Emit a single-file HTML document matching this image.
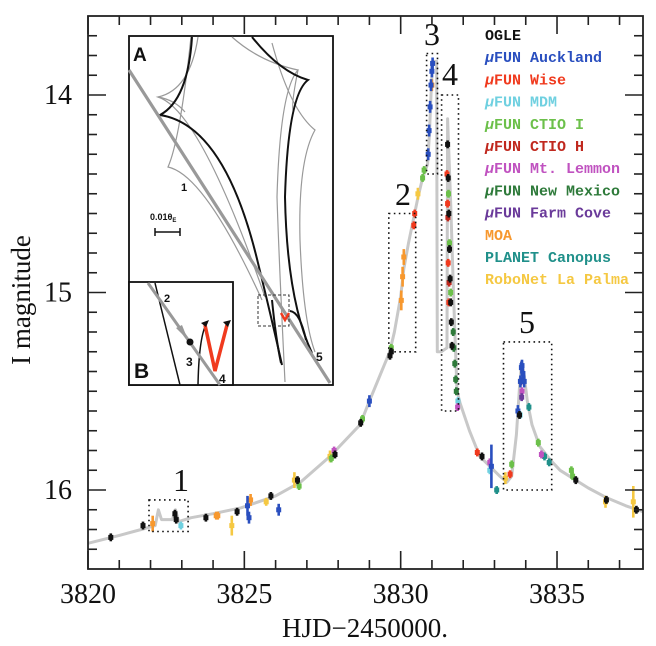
<!DOCTYPE html>
<html><head><meta charset="utf-8">
<style>
html,body{margin:0;padding:0;background:#fff;}
svg{display:block;}
.tk{stroke:#222;stroke-width:1.6;}
.lbl{font-family:"Liberation Serif",serif;fill:#111;}
.leg{font-family:"Liberation Mono",monospace;font-weight:bold;font-size:15px;}
</style></head>
<body>
<svg id="chart" width="656" height="646" viewBox="0 0 656 646" xmlns="http://www.w3.org/2000/svg">
  <rect x="0" y="0" width="656" height="646" fill="#fff"/>
  <g id="model"></g>
  <g id="points"></g>
  <g id="boxes"></g>
  <g id="inset">
    <rect x="129" y="36" width="204" height="349" fill="#fff" stroke="#111" stroke-width="1.8"/>
    <g fill="none" stroke="#999" stroke-width="1.2">
      <path d="M198,37 Q190,90 158,97 Q200,110 265,297"/>
      <path d="M191,37 Q180,140 168,167 Q205,175 262,300"/>
      <path d="M158,97 Q175,100 185,112"/>
      <path d="M232,37 Q260,62 298,70 Q280,90 277,197 Q279,260 285,382"/>
      <path d="M272,43 Q290,110 315,130 Q298,160 300,240 Q303,320 315,352"/>
      <path d="M298,70 Q290,110 294,112"/>
    </g>
    <g fill="none" stroke="#111" stroke-width="2">
      <path d="M192,37 Q188,100 160,115 Q225,125 258,263 Q272,320 282,365"/>
      <path d="M252,37 Q280,72 308,80 Q288,95 285,197 Q287,300 312,353"/>
      <path d="M272,300 Q276,340 281,363"/>
      <path d="M290,311 Q300,312 306,340"/>
    </g>
    <line x1="129" y1="70" x2="330" y2="383" stroke="#999" stroke-width="3.2"/>
    <rect x="258" y="295" width="31" height="31" fill="none" stroke="#333" stroke-width="1" stroke-dasharray="3,2"/>
    <path d="M281,313 L285,320 L289,313" fill="none" stroke="#f03a1e" stroke-width="2.5"/>
    <text x="133" y="61" font-family="Liberation Sans,sans-serif" font-weight="bold" font-size="19" fill="#111">A</text>
    <text x="181" y="191" font-family="Liberation Sans,sans-serif" font-weight="bold" font-size="11" fill="#111">1</text>
    <text x="316" y="361" font-family="Liberation Sans,sans-serif" font-weight="bold" font-size="12" fill="#111">5</text>
    <text x="150" y="220" font-family="Liberation Sans,sans-serif" font-weight="bold" font-size="9" fill="#111">0.01θ<tspan font-size="6" dy="2">E</tspan></text>
    <g stroke="#111" stroke-width="1.5">
      <line x1="155" y1="232" x2="180" y2="232"/><line x1="155" y1="228" x2="155" y2="236"/><line x1="180" y1="228" x2="180" y2="236"/>
    </g>
    <rect x="129" y="282" width="104" height="103" fill="#fff" stroke="#111" stroke-width="1.8"/>
    <line x1="155" y1="283" x2="180" y2="385" stroke="#111" stroke-width="1.5"/>
    <path d="M198,385 Q199,335 207,323" fill="none" stroke="#111" stroke-width="1.5"/>
    <line x1="148" y1="283" x2="220" y2="385" stroke="#999" stroke-width="3"/>
    <path d="M176,328 L188,340 L182,325 Z" fill="#999"/>
    <circle cx="190" cy="342" r="3.5" fill="#111"/>
    <path d="M205,325 L215,371 L227,325" fill="none" stroke="#f03a1e" stroke-width="3.5"/>
    <path d="M201,323 L209,320 L206,327 Z M223,322 L231,320 L228,327 Z" fill="#111"/>
    <text x="164" y="302" font-family="Liberation Sans,sans-serif" font-weight="bold" font-size="11" fill="#111">2</text>
    <text x="186" y="366" font-family="Liberation Sans,sans-serif" font-weight="bold" font-size="12" fill="#111">3</text>
    <text x="219" y="383" font-family="Liberation Sans,sans-serif" font-weight="bold" font-size="12" fill="#111">4</text>
    <text x="134" y="378" font-family="Liberation Sans,sans-serif" font-weight="bold" font-size="21" fill="#111">B</text>
  </g>
  <g id="axes"></g>
  <g id="legend"></g>
  <text x="365" y="637" text-anchor="middle" class="lbl" font-size="27">HJD−2450000.</text>
  <text transform="translate(30,300) rotate(-90)" text-anchor="middle" class="lbl" font-size="27">I magnitude</text>
</svg>
<script>
// ---- data ----
const modelT = [3820,3821,3821.7,3822.15,3822.25,3822.35,3822.7,3822.8,3822.9,3823.3,3824,3824.9,3826,3826.8,3827.74,3828.7,3829.0,3829.65,3829.8,3830.0,3830.1,3830.25,3830.42,3830.55,3830.7,3830.86,3830.92,3830.97,3831.02,3831.15,3831.17,3831.3,3831.48,3831.5,3831.6,3831.7,3831.8,3831.9,3832.2,3832.53,3833.17,3833.4,3833.55,3833.7,3833.8,3833.87,3833.95,3834.05,3834.2,3834.45,3834.8,3835.1,3835.5,3836,3836.6,3837.2,3837.75];
const modelM = [16.27,16.23,16.2,16.18,16.1,16.15,16.15,16.1,16.16,16.14,16.12,16.09,16.03,15.96,15.83,15.67,15.55,15.3,15.2,15.02,14.88,14.75,14.62,14.52,14.42,14.35,14.2,14.0,13.83,13.83,15.3,15.3,15.28,14.12,14.55,15.05,15.5,15.56,15.7,15.83,15.93,15.96,15.93,15.72,15.48,15.35,15.42,15.55,15.67,15.78,15.85,15.9,15.94,15.99,16.04,16.08,16.11];

const seriesNames = ["OGLE","μFUN Auckland","μFUN Wise","μFUN MDM","μFUN CTIO I","μFUN CTIO H","μFUN Mt. Lemmon","μFUN New Mexico","μFUN Farm Cove","MOA","PLANET Canopus","RoboNet La Palma"];
const ogleT = [3820.73,3821.76,3822.78,3822.82,3823.77,3824.77,3825.85,3826.7,3827.9,3828.72,3829.66,3829.7,3831.5,3831.52,3831.54,3831.56,3831.58,3831.6,3831.62,3831.64,3832.6,3833.8,3835.6,3836.58,3837.54];
const ogleM = [16.24,16.18,16.12,16.15,16.14,16.11,16.03,15.95,15.82,15.66,15.32,15.3,14.25,14.42,14.6,14.78,14.93,15.05,15.15,15.27,15.83,15.62,15.95,16.05,16.1];
const aucklandT = [3825.1,3825.15,3826.1,3829.0,3830.88,3830.91,3830.94,3830.97,3831.0,3831.02,3832.9,3833.83,3833.86,3833.88,3833.91,3833.95,3833.75];
const aucklandM = [16.08,16.14,16.1,15.55,14.3,14.18,14.06,13.95,13.88,13.84,15.88,15.45,15.38,15.37,15.41,15.45,15.6];
const aucklandE = [0.05,0.03,0.03,0.03,0.03,0.03,0.03,0.03,0.03,0.03,0.11,0.03,0.03,0.03,0.03,0.03,0.03];
const wiseT = [3830.42,3830.45,3831.48,3831.5,3831.52,3831.54,3832.45,3833.5];
const wiseM = [14.66,14.6,14.4,14.55,14.85,15.05,15.81,15.92];
const mdmT = [3822.97,3832.85,3833.82,3831.83];
const mdmM = [16.18,15.9,15.62,15.55];
const ctioIT = [3826.75,3827.78,3828.78,3829.7,3830.7,3830.75,3831.53,3831.56,3831.6,3833.55,3834.4,3835.46,3835.5];
const ctioIM = [15.98,15.84,15.64,15.28,14.42,14.38,14.5,14.75,15.0,15.87,15.76,15.9,15.93];
const ctioHT = [3831.51,3831.55];
const ctioHM = [14.62,14.95];
const lemmonT = [3827.87,3831.82,3833.88,3834.5,3832.85];
const lemmonM = [15.8,15.58,15.5,15.82,15.86];
const nmT = [3831.68,3831.7,3831.73,3831.76,3831.78];
const nmM = [15.2,15.28,15.36,15.44,15.5];
const farmT = [3833.85,3833.87];
const farmM = [15.45,15.53];
const moaT = [3822.07,3824.1,3824.15,3825.2,3830.02,3830.06,3830.1,3831.0];
const moaM = [16.17,16.13,16.13,16.05,15.04,14.92,14.82,13.95];
const moaE = [0.04,0.02,0.02,0.03,0.05,0.05,0.04,0.03];
const canopusT = [3833.07,3834.1,3834.6,3834.75];
const canopusM = [16.0,15.58,15.83,15.86];
const laPalmaT = [3824.6,3825.7,3826.6,3827.74,3830.55,3833.35,3836.55,3837.44];
const laPalmaM = [16.18,16.06,15.95,15.83,14.5,15.94,16.06,16.06];
const laPalmaE = [0.05,0.02,0.04,0.03,0.03,0.03,0.03,0.08];

const xTickLabels = ["3820","3825","3830","3835"];
const yTickLabels = ["14","15","16"];
const boxLabels = ["1","2","3","4","5"];

// ---- scales ----
const X0=88, X1=643, T0=3820, T1=3837.75;
const Y0=16, Y1=569, M0=13.6, M1=16.4;
function X(t){ return X0+(t-T0)/(T1-T0)*(X1-X0); }
function Y(m){ return Y0+(m-M0)/(M1-M0)*(Y1-Y0); }
const NS="http://www.w3.org/2000/svg";
function mk(tag, parent, attrs){ const e=document.createElementNS(NS,tag); for(const k in attrs) e.setAttribute(k,attrs[k]); parent.appendChild(e); return e; }

// model
const mg=document.getElementById('model');
const pl=mk('polyline',mg,{points:modelT.map((t,i)=>X(t).toFixed(1)+','+Y(modelM[i]).toFixed(1)).join(' '),fill:'none',stroke:'#c8c8c8','stroke-width':3,'stroke-linejoin':'round'});



// points
const colors=["#111111","#2a4fbf","#f03a1e","#6fd0e0","#6cc04a","#c0281e","#c052c0","#2e7a3a","#6a3a9a","#f7982e","#20908a","#f5c842"];
const allT=[ogleT,aucklandT,wiseT,mdmT,ctioIT,ctioHT,lemmonT,nmT,farmT,moaT,canopusT,laPalmaT];
const allM=[ogleM,aucklandM,wiseM,mdmM,ctioIM,ctioHM,lemmonM,nmM,farmM,moaM,canopusM,laPalmaM];
const allE=[null,aucklandE,null,null,null,null,null,null,null,moaE,null,laPalmaE];
const order=[9,11,10,3,6,8,4,7,5,2,1,0];
const pg=document.getElementById('points');
order.forEach(s=>{
  const g=mk('g',pg,{});
  
  
  allT[s].forEach((t,i)=>{
    const x=X(t), y=Y(allM[s][i]);
    const e=allE[s]?allE[s][i]:0.02;
    const eh=Math.max(3,e*(Y1-Y0)/(M1-M0));
    const bar=mk('rect',g,{x:(x-1.3).toFixed(1),y:(y-eh).toFixed(1),width:2.6,height:(2*eh).toFixed(1),fill:colors[s]});
    
    
    const pt=mk('rect',g,{x:(x-2.5).toFixed(1),y:(y-2.5).toFixed(1),width:5,height:5,fill:colors[s]});
    
    
  });
});

// highlight boxes
const bg=document.getElementById('boxes');
const boxT0=[3821.95,3829.62,3830.83,3831.31,3833.29];
const boxT1=[3823.2,3830.48,3831.18,3831.85,3834.83];
const boxM0=[16.05,14.6,13.79,14.0,15.25];
const boxM1=[16.21,15.3,14.4,15.6,16.0];
boxT0.forEach((t,i)=>{
  const r=mk('rect',bg,{x:X(t).toFixed(1),y:Y(boxM0[i]).toFixed(1),width:(X(boxT1[i])-X(t)).toFixed(1),height:(Y(boxM1[i])-Y(boxM0[i])).toFixed(1),fill:'none',stroke:'#111','stroke-width':1.6,'stroke-dasharray':'1.6,3.4'});
  
  
});
const lblPos=[[181,491],[403,205],[432,45],[450,85],[527,333]];
lblPos.forEach((p,i)=>{
  const tx=mk('text',bg,{x:p[0],y:p[1],'text-anchor':'middle','class':'lbl','font-size':32});
  tx.textContent=boxLabels[i];
  
  
});

// axes
const ag=document.getElementById('axes');
const frame=mk('rect',ag,{x:X0,y:Y0,width:X1-X0,height:Y1-Y0,fill:'none',stroke:'#222','stroke-width':1.8});


for(let d=3820; d<=3837; d++){
  const x=X(d), L=(d%5===0)?18:9;
  const a=mk('line',ag,{x1:x,y1:Y1,x2:x,y2:Y1-L,'class':'tk'});
  
  
  const b=mk('line',ag,{x1:x,y1:Y0,x2:x,y2:Y0+L,'class':'tk'});
  
  
}
xTickLabels.forEach(s=>{
  const t=mk('text',ag,{x:X(+s),y:603,'text-anchor':'middle','class':'lbl','font-size':28});
  t.textContent=s;
  
  
});
for(let k=137;k<=163;k++){
  const m=k/10, y=Y(m), L=(k%10===0)?18:9;
  const a=mk('line',ag,{x1:X0,y1:y,x2:X0+L,y2:y,'class':'tk'});
  
  
  const b=mk('line',ag,{x1:X1,y1:y,x2:X1-L,y2:y,'class':'tk'});
  
  
}
yTickLabels.forEach(s=>{
  const t=mk('text',ag,{x:72,y:Y(+s)+9,'text-anchor':'end','class':'lbl','font-size':28});
  t.textContent=s;
  
  
});

// legend
const lg=document.getElementById('legend');
seriesNames.forEach((n,i)=>{
  const t=mk('text',lg,{x:485,y:40+i*22.2,'class':'leg',fill:colors[i]});
  if(n.startsWith('μ')){
    const ts=mk('tspan',t,{'font-style':'italic'}); ts.textContent='μ';
    const r=mk('tspan',t,{}); r.textContent=n.slice(1);
  } else t.textContent=n;
  
  
});
</script>
</body></html>
